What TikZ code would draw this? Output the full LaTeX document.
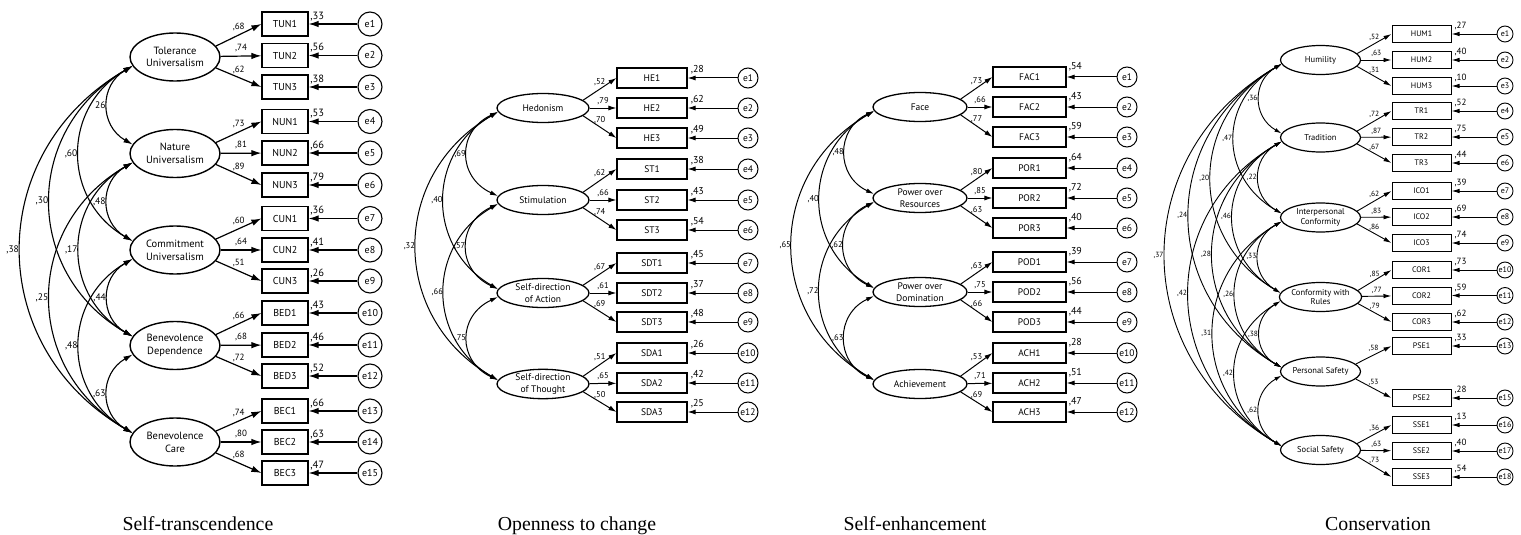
\documentclass[tikz,border=0pt]{standalone}
\usepackage{fontspec}
\setmainfont{PT Sans}
\newfontfamily\ttlfont{Liberation Serif}
\usetikzlibrary{arrows.meta,shapes.geometric,calc}

\newcommand{\indic}[5]{%
  \node[box] (#1) at (\bx,#2) {#3};
  \node[rsq, anchor=base west] (#1r) at ([xshift=\rdx,yshift=-\rdy]#1.north east) {#4};
  \node[err] (#1e) at (\cx,#2) {#5};
  \draw[arr] (#1e) -- (#1);
}

\begin{document}
\begin{tikzpicture}[x=1pt,y=-1pt,
  ttl/.style={anchor=base, inner sep=0pt, font=\ttlfont\fontsize{19.8}{22}\selectfont},
  cva/.style={bend right=62, looseness=1.3},
  cvb/.style={bend right=60, looseness=1.2}]
\fill[white] (0,0) rectangle (1521,535);
\useasboundingbox (0,0) rectangle (1521,535);

%================ Panel 1 =================
\begin{scope}[
  lat/.style={ellipse, draw, line width=1.4pt, minimum width=90pt, minimum height=48pt, inner sep=0pt, align=center, font=\fontsize{10.5}{12.7}\selectfont},
  box/.style={rectangle, draw, line width=1.2pt, minimum width=46pt, minimum height=24pt, inner sep=0pt, font=\fontsize{10}{11}\selectfont},
  rsq/.style={inner sep=0pt, font=\fontsize{10.5}{12}\selectfont},
  err/.style={circle, draw, line width=1.1pt, minimum size=24pt, inner sep=0pt, font=\fontsize{10}{12}\selectfont},
  arr/.style={line width=1.2pt, arrows={-Latex[length=10pt,width=6.5pt]}},
  ld/.style={above=3pt, inner sep=0.5pt, font=\fontsize{9}{10}\selectfont},
  cov/.style={line width=1.1pt, arrows={Latex[length=9pt,width=5.5pt]-Latex[length=9pt,width=5.5pt]}},
  cl/.style={left, inner sep=1.5pt, font=\fontsize{9.5}{10}\selectfont}]
\def\bx{285}\def\cx{370}\def\rdx{1.5pt}\def\rdy{8pt}
\node[lat] (a1) at (175,57) {Tolerance\\Universalism};
\node[lat] (a2) at (175,153.5) {Nature\\Universalism};
\node[lat] (a3) at (175,250) {Commitment\\Universalism};
\node[lat] (a4) at (175,345.5) {Benevolence\\Dependence};
\node[lat] (a5) at (175,442) {Benevolence\\Care};
\indic{tun1}{24}{TUN1}{,33}{e1}
\indic{tun2}{55.5}{TUN2}{,56}{e2}
\indic{tun3}{87}{TUN3}{,38}{e3}
\indic{nun1}{121.5}{NUN1}{,53}{e4}
\indic{nun2}{153}{NUN2}{,66}{e5}
\indic{nun3}{185}{NUN3}{,79}{e6}
\indic{cun1}{218.5}{CUN1}{,36}{e7}
\indic{cun2}{250}{CUN2}{,41}{e8}
\indic{cun3}{281}{CUN3}{,26}{e9}
\indic{bed1}{313}{BED1}{,43}{e10}
\indic{bed2}{345}{BED2}{,46}{e11}
\indic{bed3}{376}{BED3}{,52}{e12}
\indic{bec1}{411}{BEC1}{,66}{e13}
\indic{bec2}{442}{BEC2}{,63}{e14}
\indic{bec3}{473}{BEC3}{,47}{e15}
\draw[arr] (a1.15) -- node[ld]{,68} (tun1.west);
\draw[arr] (a1) -- node[ld]{,74} (tun2);
\draw[arr] (a1.-15) -- node[ld]{,62} (tun3.west);
\draw[arr] (a2.15) -- node[ld]{,73} (nun1.west);
\draw[arr] (a2) -- node[ld]{,81} (nun2);
\draw[arr] (a2.-15) -- node[ld]{,89} (nun3.west);
\draw[arr] (a3.15) -- node[ld]{,60} (cun1.west);
\draw[arr] (a3) -- node[ld]{,64} (cun2);
\draw[arr] (a3.-15) -- node[ld]{,51} (cun3.west);
\draw[arr] (a4.15) -- node[ld]{,66} (bed1.west);
\draw[arr] (a4) -- node[ld]{,68} (bed2);
\draw[arr] (a4.-15) -- node[ld]{,72} (bed3.west);
\draw[arr] (a5.15) -- node[ld]{,74} (bec1.west);
\draw[arr] (a5) -- node[ld]{,80} (bec2);
\draw[arr] (a5.-15) -- node[ld]{,68} (bec3.west);
\draw[cov] (a1.192) to[bend right=60,looseness=1.25] node[cl]{26} (a2.168);
\draw[cov] (a1.192) to[cvb] node[cl]{,60} (a3.168);
\draw[cov] (a1.192) to[cvb] node[cl]{,30} (a4.168);
\draw[cov] (a1.192) to[cvb] node[cl]{,38} (a5.168);
\draw[cov] (a2.192) to[bend right=60,looseness=1.25] node[cl]{,48} (a3.168);
\draw[cov] (a2.192) to[cvb] node[cl]{,17} (a4.168);
\draw[cov] (a2.192) to[cvb] node[cl]{,25} (a5.168);
\draw[cov] (a3.192) to[bend right=60,looseness=1.25] node[cl]{,44} (a4.168);
\draw[cov] (a3.192) to[cvb] node[cl]{,48} (a5.168);
\draw[cov] (a4.192) to[bend right=60,looseness=1.25] node[cl]{,63} (a5.168);
\node[ttl] (t1) at (198,530) {Self-transcendence};
\end{scope}

%================ Panel 2 =================
\begin{scope}[
  lat/.style={ellipse, draw, line width=1.3pt, minimum width=92pt, minimum height=29pt, inner sep=0pt, align=center, font=\fontsize{9.5}{12}\selectfont},
  box/.style={rectangle, draw, line width=1.1pt, minimum width=70pt, minimum height=20pt, inner sep=0pt, font=\fontsize{9.5}{11}\selectfont},
  rsq/.style={inner sep=0pt, font=\fontsize{10}{12}\selectfont},
  err/.style={circle, draw, line width=1pt, minimum size=20pt, inner sep=0pt, font=\fontsize{9.5}{11}\selectfont},
  arr/.style={line width=1pt, arrows={-Latex[length=8pt,width=5pt]}},
  ld/.style={above=2.5pt, inner sep=0.5pt, font=\fontsize{8.5}{10}\selectfont},
  cov/.style={line width=1pt, arrows={Latex[length=8pt,width=4.5pt]-Latex[length=8pt,width=4.5pt]}},
  cl/.style={left, inner sep=1pt, font=\fontsize{8.5}{10}\selectfont}]
\def\bx{652}\def\cx{748}\def\rdx{3pt}\def\rdy{5pt}
\node[lat] (b1) at (543,108) {Hedonism};
\node[lat] (b2) at (543,200) {Stimulation};
\node[lat] (b3) at (543,293) {Self-direction\\of Action};
\node[lat] (b4) at (543,384) {Self-direction\\of Thought};
\indic{he1}{78}{HE1}{,28}{e1}
\indic{he2}{108}{HE2}{,62}{e2}
\indic{he3}{138}{HE3}{,49}{e3}
\indic{st1}{169}{ST1}{,38}{e4}
\indic{st2}{200}{ST2}{,43}{e5}
\indic{st3}{230}{ST3}{,54}{e6}
\indic{sdt1}{263}{SDT1}{,45}{e7}
\indic{sdt2}{293}{SDT2}{,37}{e8}
\indic{sdt3}{322}{SDT3}{,48}{e9}
\indic{sda1}{353}{SDA1}{,26}{e10}
\indic{sda2}{383}{SDA2}{,42}{e11}
\indic{sda3}{412}{SDA3}{,25}{e12}
\draw[arr] (b1.11) -- node[ld]{,52} (he1.west);
\draw[arr] (b1) -- node[ld]{,79} (he2);
\draw[arr] (b1.-11) -- node[ld]{,70} (he3.west);
\draw[arr] (b2.11) -- node[ld]{,62} (st1.west);
\draw[arr] (b2) -- node[ld]{,66} (st2);
\draw[arr] (b2.-11) -- node[ld]{,74} (st3.west);
\draw[arr] (b3.11) -- node[ld]{,67} (sdt1.west);
\draw[arr] (b3) -- node[ld]{,61} (sdt2);
\draw[arr] (b3.-11) -- node[ld]{,69} (sdt3.west);
\draw[arr] (b4.11) -- node[ld]{,51} (sda1.west);
\draw[arr] (b4) -- node[ld]{,65} (sda2);
\draw[arr] (b4.-11) -- node[ld]{,50} (sda3.west);
\draw[cov] (b1.185) to[bend right=65,looseness=1.38] node[cl]{,69} (b2.175);
\draw[cov] (b1.185) to[cvb] node[cl]{,40} (b3.175);
\draw[cov] (b1.185) to[cvb] node[cl]{,32} (b4.175);
\draw[cov] (b2.185) to[bend right=65,looseness=1.38] node[cl]{,57} (b3.175);
\draw[cov] (b2.185) to[cvb] node[cl]{,66} (b4.175);
\draw[cov] (b3.185) to[bend right=65,looseness=1.38] node[cl]{,75} (b4.175);
\node[ttl] (t2) at (577,530) {Openness to change};
\end{scope}

%================ Panel 3 =================
\begin{scope}[
  lat/.style={ellipse, draw, line width=1.3pt, minimum width=94pt, minimum height=29pt, inner sep=0pt, align=center, font=\fontsize{9.5}{12}\selectfont},
  box/.style={rectangle, draw, line width=1.1pt, minimum width=73pt, minimum height=20pt, inner sep=0pt, font=\fontsize{9.5}{11}\selectfont},
  rsq/.style={inner sep=0pt, font=\fontsize{10}{12}\selectfont},
  err/.style={circle, draw, line width=1pt, minimum size=20pt, inner sep=0pt, font=\fontsize{9.5}{11}\selectfont},
  arr/.style={line width=1pt, arrows={-Latex[length=8pt,width=5pt]}},
  ld/.style={above=2.5pt, inner sep=0.5pt, font=\fontsize{8.5}{10}\selectfont},
  cov/.style={line width=1pt, arrows={Latex[length=8pt,width=4.5pt]-Latex[length=8pt,width=4.5pt]}},
  cl/.style={left, inner sep=1pt, font=\fontsize{8.5}{10}\selectfont}]
\def\bx{1029.5}\def\cx{1127}\def\rdx{2pt}\def\rdy{3.5pt}
\node[lat] (c1) at (920,107) {Face};
\node[lat] (c2) at (920,198) {Power over\\Resources};
\node[lat] (c3) at (920,292) {Power over\\Domination};
\node[lat] (c4) at (920,384) {Achievement};
\indic{fac1}{77}{FAC1}{,54}{e1}
\indic{fac2}{107}{FAC2}{,43}{e2}
\indic{fac3}{137}{FAC3}{,59}{e3}
\indic{por1}{168}{POR1}{,64}{e4}
\indic{por2}{198}{POR2}{,72}{e5}
\indic{por3}{228}{POR3}{,40}{e6}
\indic{pod1}{262}{POD1}{,39}{e7}
\indic{pod2}{292}{POD2}{,56}{e8}
\indic{pod3}{322}{POD3}{,44}{e9}
\indic{ach1}{353}{ACH1}{,28}{e10}
\indic{ach2}{383}{ACH2}{,51}{e11}
\indic{ach3}{412}{ACH3}{,47}{e12}
\draw[arr] (c1.11) -- node[ld]{,73} (fac1.west);
\draw[arr] (c1) -- node[ld]{,66} (fac2);
\draw[arr] (c1.-11) -- node[ld]{,77} (fac3.west);
\draw[arr] (c2.11) -- node[ld]{,80} (por1.west);
\draw[arr] (c2) -- node[ld]{,85} (por2);
\draw[arr] (c2.-11) -- node[ld]{,63} (por3.west);
\draw[arr] (c3.11) -- node[ld]{,63} (pod1.west);
\draw[arr] (c3) -- node[ld]{,75} (pod2);
\draw[arr] (c3.-11) -- node[ld]{,66} (pod3.west);
\draw[arr] (c4.11) -- node[ld]{,53} (ach1.west);
\draw[arr] (c4) -- node[ld]{,71} (ach2);
\draw[arr] (c4.-11) -- node[ld]{,69} (ach3.west);
\draw[cov] (c1.185) to[bend right=65,looseness=1.31] node[cl]{,48} (c2.175);
\draw[cov] (c1.185) to[cvb] node[cl]{,40} (c3.175);
\draw[cov] (c1.185) to[cvb] node[cl]{,65} (c4.175);
\draw[cov] (c2.185) to[bend right=65,looseness=1.31] node[cl]{,62} (c3.175);
\draw[cov] (c2.185) to[cvb] node[cl]{,72} (c4.175);
\draw[cov] (c3.185) to[bend right=65,looseness=1.31] node[cl]{,63} (c4.175);
\node[ttl] (t3) at (915,530) {Self-enhancement};
\end{scope}

%================ Panel 4 =================
\begin{scope}[
  lat/.style={ellipse, draw, line width=1.2pt, minimum width=80pt, minimum height=29pt, inner sep=0pt, align=center, font=\fontsize{8.5}{9.6}\selectfont},
  box/.style={rectangle, draw, line width=1pt, minimum width=59pt, minimum height=17pt, inner sep=0pt, font=\fontsize{8}{10}\selectfont},
  rsq/.style={inner sep=0pt, font=\fontsize{9}{11}\selectfont},
  err/.style={circle, draw, line width=0.9pt, minimum size=16pt, inner sep=0pt, font=\fontsize{8}{10}\selectfont},
  arr/.style={line width=0.9pt, arrows={-Latex[length=8pt,width=4.5pt]}},
  ld/.style={above=2pt, inner sep=0.5pt, font=\fontsize{7.5}{9}\selectfont},
  cov/.style={line width=0.9pt, arrows={Latex[length=7pt,width=4pt]-Latex[length=7pt,width=4pt]}},
  cl/.style={left, inner sep=1.5pt, font=\fontsize{7.5}{9}\selectfont}]
\def\bx{1421.5}\def\cx{1505}\def\rdx{3pt}\def\rdy{3.5pt}
\node[lat] (d1) at (1320.5,60) {Humility};
\node[lat] (d2) at (1320.5,137.5) {Tradition};
\node[lat] (d3) at (1320.5,217.5) {Interpersonal\\Conformity};
\node[lat] (d4) at (1320.5,297) {Conformity with\\Rules};
\node[lat] (d5) at (1320.5,371.5) {Personal Safety};
\node[lat] (d6) at (1320.5,450) {Social Safety};
\indic{hum1}{34}{HUM1}{,27}{e1}
\indic{hum2}{60}{HUM2}{,40}{e2}
\indic{hum3}{86}{HUM3}{,10}{e3}
\indic{tr1}{111}{TR1}{,52}{e4}
\indic{tr2}{137}{TR2}{,75}{e5}
\indic{tr3}{163}{TR3}{,44}{e6}
\indic{ico1}{191}{ICO1}{,39}{e7}
\indic{ico2}{217}{ICO2}{,69}{e8}
\indic{ico3}{243}{ICO3}{,74}{e9}
\indic{cor1}{270}{COR1}{,73}{e10}
\indic{cor2}{295.5}{COR2}{,59}{e11}
\indic{cor3}{322}{COR3}{,62}{e12}
\indic{pse1}{346}{PSE1}{,33}{e13}
\indic{pse2}{398}{PSE2}{,28}{e15}
\indic{sse1}{425}{SSE1}{,13}{e16}
\indic{sse2}{451}{SSE2}{,40}{e17}
\indic{sse3}{477}{SSE3}{,54}{e18}
\draw[arr] (d1.10) -- node[ld]{,52} (hum1.west);
\draw[arr] (d1) -- node[ld]{,63} (hum2);
\draw[arr] (d1.-10) -- node[ld]{,31} (hum3.west);
\draw[arr] (d2.10) -- node[ld]{,72} (tr1.west);
\draw[arr] (d2) -- node[ld]{,87} (tr2);
\draw[arr] (d2.-10) -- node[ld]{,67} (tr3.west);
\draw[arr] (d3.10) -- node[ld]{,62} (ico1.west);
\draw[arr] (d3) -- node[ld]{,83} (ico2);
\draw[arr] (d3.-10) -- node[ld]{,86} (ico3.west);
\draw[arr] (d4.10) -- node[ld]{,85} (cor1.west);
\draw[arr] (d4) -- node[ld]{,77} (cor2);
\draw[arr] (d4.-10) -- node[ld]{,79} (cor3.west);
\draw[arr] (d5.12) -- node[ld]{,58} (pse1.west);
\draw[arr] (d5.-12) -- node[ld]{,53} (pse2.west);
\draw[arr] (d6.10) -- node[ld]{,36} (sse1.west);
\draw[arr] (d6) -- node[ld]{,63} (sse2);
\draw[arr] (d6.-10) -- node[ld]{,73} (sse3.west);
\draw[cov] (d1.186) to[bend right=60,looseness=1.25] node[cl]{,36} (d2.174);
\draw[cov] (d1.186) to[bend right=60,looseness=1.25] node[cl]{,47} (d3.174);
\draw[cov] (d1.186) to[cvb] node[cl]{,20} (d4.174);
\draw[cov] (d1.186) to[cvb] node[cl]{,24} (d5.174);
\draw[cov] (d1.186) to[cvb] node[cl]{,37} (d6.174);
\draw[cov] (d2.186) to[bend right=60,looseness=1.25] node[cl]{,22} (d3.174);
\draw[cov] (d2.186) to[bend right=60,looseness=1.25] node[cl]{,46} (d4.174);
\draw[cov] (d2.186) to[cvb] node[cl]{,28} (d5.174);
\draw[cov] (d2.186) to[cvb] node[cl]{,42} (d6.174);
\draw[cov] (d3.186) to[bend right=60,looseness=1.25] node[cl]{,33} (d4.174);
\draw[cov] (d3.186) to[bend right=60,looseness=1.25] node[cl]{,26} (d5.174);
\draw[cov] (d3.186) to[cvb] node[cl]{,31} (d6.174);
\draw[cov] (d4.186) to[bend right=60,looseness=1.25] node[cl]{,38} (d5.174);
\draw[cov] (d4.186) to[bend right=60,looseness=1.25] node[cl]{,42} (d6.174);
\draw[cov] (d5.186) to[bend right=60,looseness=1.25] node[cl]{,62} (d6.174);
\node[ttl] (t4) at (1378,530) {Conservation};
\end{scope}
\end{tikzpicture}
\end{document}
